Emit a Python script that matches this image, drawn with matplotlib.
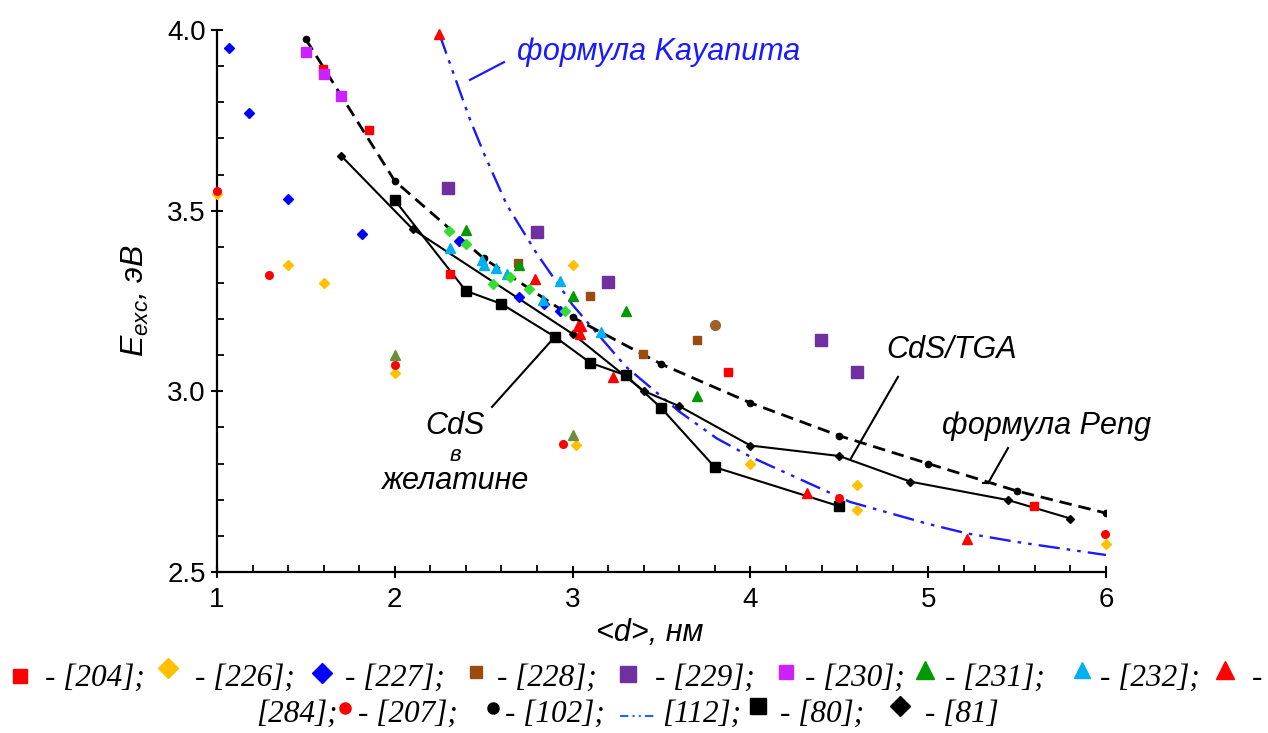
import numpy as np
import matplotlib
matplotlib.use("Agg")
import matplotlib.pyplot as plt
from matplotlib.lines import Line2D
from matplotlib.ticker import MultipleLocator

plt.rcParams['font.family'] = ['Liberation Sans', 'DejaVu Sans']
plt.rcParams['mathtext.fontset'] = 'custom'
plt.rcParams['mathtext.it'] = 'Liberation Sans:italic'
plt.rcParams['mathtext.rm'] = 'Liberation Sans'

# data: (d, E) pairs per reference
d204 = [1.594, 1.855, 2.31, 3.876, 5.595]
e204 = [3.893, 3.724, 3.324, 3.053, 2.683]
d226 = [1.0, 1.40, 1.60, 2.0, 3.0, 3.017, 4.0, 4.60, 4.60, 6.0]
e226 = [3.545, 3.351, 3.30, 3.05, 3.351, 2.851, 2.799, 2.74, 2.671, 2.578]
d227 = [1.067, 1.18, 1.40, 1.817, 2.36, 2.70, 2.84, 2.93]
e227 = [3.95, 3.77, 3.533, 3.436, 3.415, 3.262, 3.242, 3.223]
d228 = [2.695, 3.10, 3.394, 3.70]
e228 = [3.354, 3.263, 3.103, 3.142]
d229 = [2.30, 2.80, 3.20, 4.397, 4.60]
e229 = [3.562, 3.441, 3.303, 3.142, 3.053]
d230 = [1.50, 1.60, 1.70]
e230 = [3.938, 3.877, 3.817]
d231 = [2.40, 2.70, 3.0, 3.30, 3.70]
e231 = [3.446, 3.35, 3.263, 3.222, 2.987]
d232 = [2.31, 2.49, 2.50, 2.57, 2.63, 2.835, 2.93, 3.16]
e232 = [3.396, 3.363, 3.351, 3.342, 3.324, 3.253, 3.305, 3.163]
d284 = [2.25, 2.79, 3.03, 3.05, 3.04, 3.23, 4.317, 5.216]
e284 = [3.99, 3.31, 3.18, 3.18, 3.16, 3.04, 2.719, 2.592]
d207 = [1.0, 1.294, 2.0, 2.944, 4.497, 5.995]
e207 = [3.554, 3.322, 3.072, 2.853, 2.705, 2.604]
# unlisted references
d_gd = [2.305, 2.40, 2.55, 2.65, 2.756, 2.96]
e_gd = [3.444, 3.408, 3.297, 3.317, 3.283, 3.223]
d_bc = [3.80]
e_bc = [3.183]
d_ol = [2.0, 3.0]
e_ol = [3.10, 2.879]

# Peng formula [102]
d102 = [1.5, 2.0, 2.5, 3.0, 3.5, 4.0, 4.5, 5.0, 5.5, 6.0]
e102 = [3.974, 3.582, 3.368, 3.205, 3.075, 2.968, 2.877, 2.80, 2.724, 2.663]
# Kayanuma formula [112]
d112 = [2.25, 2.42, 2.5, 2.63, 2.8, 3.0, 3.3, 3.6, 3.81, 4.0, 4.56, 5.0, 5.216, 5.5, 6.0]
e112 = [3.99, 3.756, 3.66, 3.516, 3.38, 3.239, 3.068, 2.944, 2.87, 2.819, 2.694, 2.633, 2.607, 2.583, 2.547]
# CdS in gelatin [80]
d80 = [2.0, 2.4, 2.6, 2.9, 3.1, 3.3, 3.5, 3.8, 4.5]
e80 = [3.529, 3.278, 3.242, 3.151, 3.079, 3.044, 2.953, 2.79, 2.682]
# CdS/TGA [81]
d81 = [1.7, 2.1, 3.0, 3.4, 3.6, 4.0, 4.5, 4.9, 5.45, 5.8]
e81 = [3.651, 3.449, 3.159, 3.001, 2.959, 2.85, 2.821, 2.75, 2.699, 2.648]

W, H = 1268, 733
fig = plt.figure(figsize=(W / 100, H / 100), dpi=100)
ax = fig.add_axes([217 / W, 1 - 572 / H, (1106 - 217) / W, (572 - 30) / H])

# lines
ax.plot(d112, e112, color='#1a1aff', lw=1.7, dashes=(9, 3, 1.5, 3, 1.5, 3), zorder=2)
ax.plot(d102, e102, color='black', lw=2, dashes=(4.5, 2.5), marker='o', ms=4.5, zorder=3)
ax.plot(d80, e80, color='black', lw=1.5, marker='s', ms=6.5, zorder=3)
ax.plot(d81, e81, color='black', lw=1.5, marker='D', ms=4, zorder=3)

kw = dict(ls='none', zorder=4, clip_on=False)
ax.plot(d226, e226, marker='D', ms=5, color='#ffc000', **kw)
ax.plot(d207, e207, marker='o', ms=5.5, color='#ff0000', **kw)
ax.plot(d204, e204, marker='s', ms=5.5, color='#ff0000', **kw)
ax.plot(d227, e227, marker='D', ms=5, color='#0000ff', **kw)
ax.plot(d228, e228, marker='s', ms=5.5, color='#9c4a10', **kw)
ax.plot(d229, e229, marker='s', ms=8.5, color='#7030a0', **kw)
ax.plot(d230, e230, marker='s', ms=7, color='#cc22ff', **kw)
ax.plot(d231, e231, marker='^', ms=7, color='#009a00', **kw)
ax.plot(d232, e232, marker='^', ms=7, color='#00b0f0', **kw)
ax.plot(d284, e284, marker='^', ms=7, color='#ff0000', **kw)
ax.plot(d_gd, e_gd, marker='D', ms=5.5, color='#33dd33', **kw)
ax.plot(d_bc, e_bc, marker='o', ms=7, color='#a0602a', **kw)
ax.plot(d_ol, e_ol, marker='^', ms=6.5, color='#6b8e3a', **kw)

ax.set_xlim(1, 6)
ax.set_ylim(2.5, 4.0)
ax.xaxis.set_major_locator(MultipleLocator(1))
ax.xaxis.set_minor_locator(MultipleLocator(0.2))
ax.yaxis.set_major_locator(MultipleLocator(0.5))
ax.yaxis.set_minor_locator(MultipleLocator(0.1))
ax.yaxis.set_major_formatter(matplotlib.ticker.FormatStrFormatter('%.1f'))
for s in ['top', 'right']:
    ax.spines[s].set_visible(False)
for s in ['left', 'bottom']:
    ax.spines[s].set_linewidth(1.6)
ax.tick_params(which='major', direction='inout', length=9, width=1.5, labelsize=20)
ax.tick_params(which='minor', direction='in', length=5, width=1.3)
ax.tick_params(axis='x', which='major', pad=6)

ax.set_xlabel('<d>, нм', fontsize=22, style='italic', labelpad=4)
ax.xaxis.set_label_coords((650 - 217) / (1106 - 217), -0.085)
ax.set_ylabel(r'$E_{exc}$, эВ', fontsize=23, style='italic', labelpad=12)

# annotations
tkw = dict(fontsize=22, style='italic')
ax.text(2.687, 3.939, 'формула Kayanuта', color='#1a1aff', va='center', ha='left', **tkw)
ax.plot([2.423, 2.614], [3.862, 3.911], color='#1a1aff', lw=1.6)
ax.text(5.134, 3.114, 'CdS/TGA', va='center', ha='center', **tkw)
ax.plot([4.83, 4.566], [3.040, 2.815], color='black', lw=1.5)
ax.text(5.668, 2.904, 'формула Peng', va='center', ha='center', **tkw)
ax.plot([5.449, 5.337], [2.843, 2.746], color='black', lw=1.5)
ax.plot([5.31, 5.365], [2.746, 2.746], color='black', lw=1.5)
ax.text(2.339, 2.905, 'CdS', va='center', ha='center', **tkw)
ax.text(2.339, 2.822, 'в', va='center', ha='center', fontsize=16, style='italic')
ax.text(2.339, 2.752, 'желатине', va='center', ha='center', **tkw)
ax.plot([2.547, 2.884], [2.957, 3.142], color='black', lw=1.5)

# legend laid out as two text rows under the axes
def fx(x):
    return x / W

def fy(y):
    return 1 - y / H

lkw = dict(fontfamily='Liberation Serif', style='italic', fontsize=22.5, va='center')
legend_items = [
    (20, 676, 's', 10, '#ff0000', 45, '- [204];'),
    (168, 668, 'D', 10, '#ffc000', 195, '- [226];'),
    (322, 673, 'D', 10, '#0000ff', 345, '- [227];'),
    (476, 672, 's', 9, '#9c4a10', 497, '- [228];'),
    (628, 674, 's', 12, '#7030a0', 655, '- [229];'),
    (786, 672, 's', 10, '#cc22ff', 805, '- [230];'),
    (925, 670, '^', 13, '#009a00', 945, '- [231];'),
    (1082, 670, '^', 11, '#00b0f0', 1100, '- [232];'),
    (1225, 670, '^', 13, '#ff0000', 1252, '-'),
    (345, 708, 'o', 8, '#ff0000', 358, '- [207];'),
    (493, 708, 'o', 8, 'black', 505, '- [102];'),
    (758, 706, 's', 11, 'black', 780, '- [80];'),
    (900, 706, 'D', 10, 'black', 925, '- [81]'),
]
for mx, my, m, ms, c, tx, lab in legend_items:
    fig.add_artist(Line2D([fx(mx)], [fy(my)], marker=m, ms=ms, color=c, ls='none'))
    ty = 678 if my < 690 else 714
    fig.text(fx(tx), fy(ty), lab, **lkw)
fig.text(fx(256), fy(714), '[284];', **lkw)
fig.add_artist(Line2D([fx(620), fx(655)], [fy(716), fy(716)], color='#1e64ff', lw=1.5,
                      dashes=(4, 2, 1, 2, 1, 2)))
fig.text(fx(662), fy(714), '[112];', **lkw)

fig.savefig('out.png', dpi=100)
